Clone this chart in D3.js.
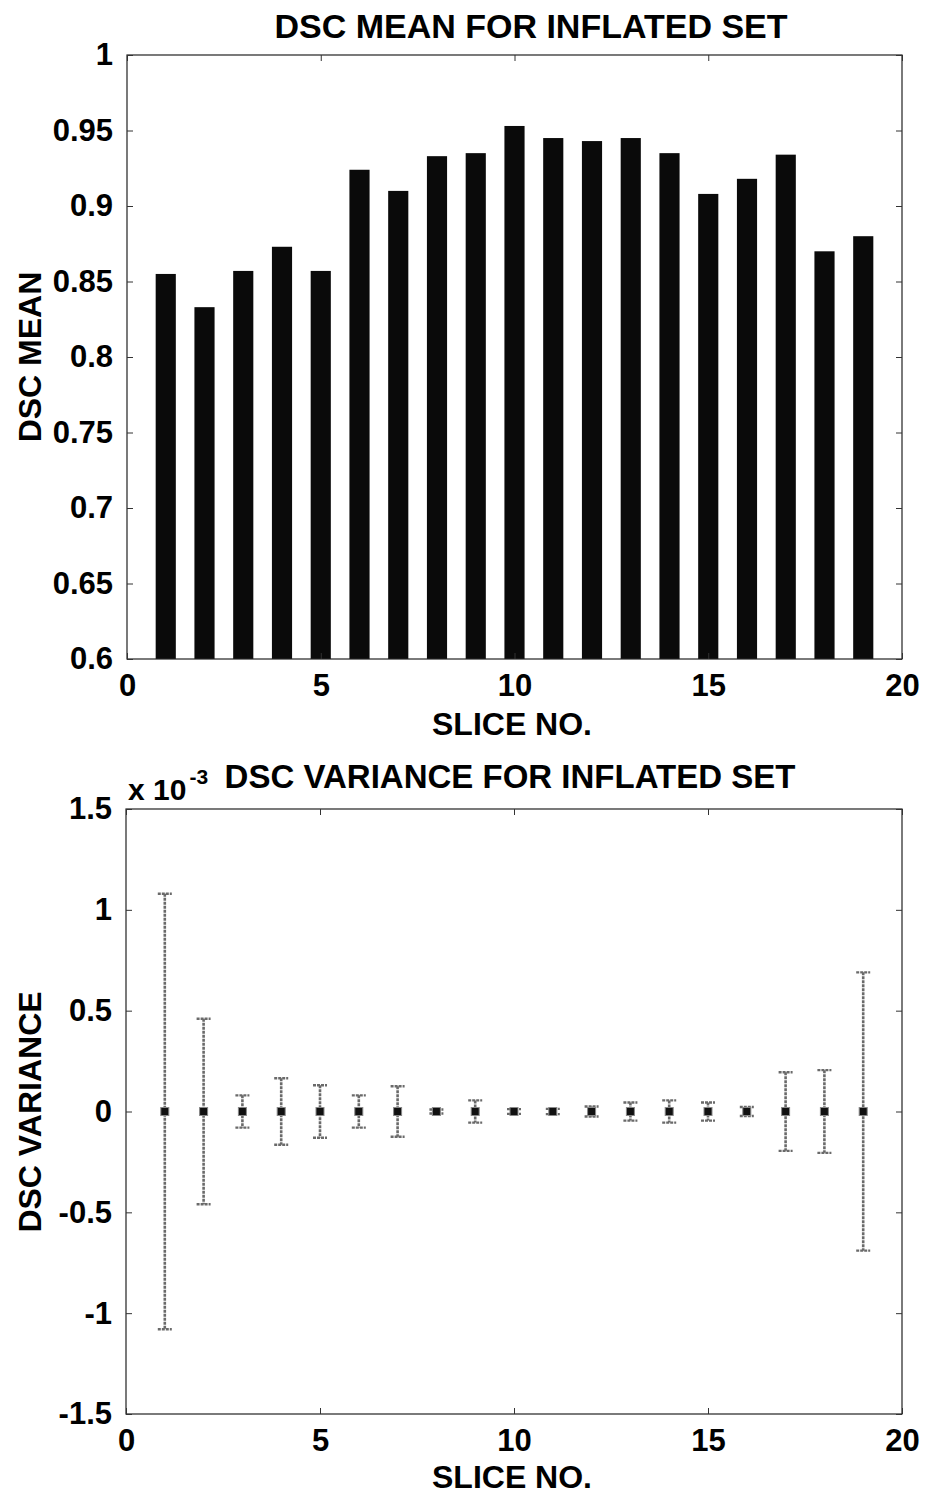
<!DOCTYPE html>
<html>
<head>
<meta charset="utf-8">
<title>DSC inflated set</title>
<script src="https://cdn.jsdelivr.net/npm/d3@7"></script>
<style>
  body, html { margin: 0; background: #fff; }
  text { font-family: "Liberation Sans", Arial, Helvetica, sans-serif; font-weight: bold; fill: #000; }
  .domain { display: none; }
  .frame { fill: none; stroke: #222; stroke-width: 1.2; }
  .bar { fill: #0a0a0a; }
  .err { stroke: #6a6a6a; stroke-width: 2.6; stroke-dasharray: 3,1; fill: none; }
  .cap { stroke: #6a6a6a; stroke-width: 2.4; stroke-dasharray: 3,1; }
  .mk { fill: #111; stroke: #888; stroke-width: 1; }
</style>
</head>
<body>
<div id="chart"></div>
<script>
// slice numbers
var slices = [1, 2, 3, 4, 5, 6, 7, 8, 9, 10, 11, 12, 13, 14, 15, 16, 17, 18, 19];
// mean DSC per slice
var dscMean = [0.855, 0.833, 0.857, 0.873, 0.857, 0.924, 0.910, 0.933, 0.935, 0.953,
               0.945, 0.943, 0.945, 0.935, 0.908, 0.918, 0.934, 0.870, 0.880];
// variance plot: centre values and half-widths of error bars (x 10^-3)
var varCentre = [0, 0, 0, 0, 0, 0, 0, 0, 0, 0, 0, 0, 0, 0, 0, 0, 0, 0, 0];
var varErr = [1.08, 0.46, 0.08, 0.165, 0.13, 0.08, 0.125, 0.01, 0.055, 0.012,
              0.013, 0.025, 0.045, 0.055, 0.045, 0.022, 0.195, 0.205, 0.69];
var xTicks = [0, 5, 10, 15, 20];
var meanTicks = [0.6, 0.65, 0.7, 0.75, 0.8, 0.85, 0.9, 0.95, 1];
var meanTickLabels = ["0.6", "0.65", "0.7", "0.75", "0.8", "0.85", "0.9", "0.95", "1"];
var varTicks = [-1.5, -1, -0.5, 0, 0.5, 1, 1.5];
var varTickLabels = ["-1.5", "-1", "-0.5", "0", "0.5", "1", "1.5"];

var w = 925, h = 1494;
var svg = d3.select("#chart").append("svg").attr("width", w).attr("height", h);

var left = 127, right = 902;
var tickLen = 6;

// draw the box, inside ticks on all four sides, and tick labels
function frame(g, x, y, yTicks, yLabels) {
  var x0 = x.range()[0], x1 = x.range()[1];
  var y0 = y.range()[0], y1 = y.range()[1];
  g.append("rect").attr("class", "frame")
    .attr("x", x0).attr("y", y1).attr("width", x1 - x0).attr("height", y0 - y1);

  g.append("g").attr("transform", "translate(0," + y0 + ")")
    .call(d3.axisBottom(x).tickValues(xTicks).tickSize(-tickLen).tickPadding(15).tickFormat(d3.format("d")))
    .call(function (a) { a.selectAll("text").attr("font-size", 31); });
  g.append("g").attr("transform", "translate(0," + y1 + ")")
    .call(d3.axisTop(x).tickValues(xTicks).tickSize(-tickLen).tickFormat(""));
  g.append("g").attr("transform", "translate(" + x0 + ",0)")
    .call(d3.axisLeft(y).tickValues(yTicks).tickSize(-tickLen).tickPadding(14)
      .tickFormat(function (d, i) { return yLabels[i]; }))
    .call(function (a) { a.selectAll("text").attr("font-size", 31); });
  g.append("g").attr("transform", "translate(" + x1 + ",0)")
    .call(d3.axisRight(y).tickValues(yTicks).tickSize(-tickLen).tickFormat(""));
  g.selectAll(".tick line").attr("stroke", "#333");
}

// ---------- top: DSC mean bars ----------
var x1s = d3.scaleLinear().domain([0, 20]).range([left, right]);
var y1s = d3.scaleLinear().domain([0.6, 1]).range([659, 55]);
var topG = svg.append("g");

topG.selectAll("rect.bar").data(slices).enter().append("rect")
  .attr("class", "bar")
  .attr("x", function (d) { return x1s(d - 0.26); })
  .attr("width", x1s(0.52) - x1s(0))
  .attr("y", function (d, i) { return y1s(dscMean[i]); })
  .attr("height", function (d, i) { return y1s(0.6) - y1s(dscMean[i]); });

frame(topG, x1s, y1s, meanTicks, meanTickLabels);

topG.append("text").attr("x", 531).attr("y", 38).attr("text-anchor", "middle")
  .attr("font-size", 34).text("DSC MEAN FOR INFLATED SET");
topG.append("text").attr("x", 512).attr("y", 735).attr("text-anchor", "middle")
  .attr("font-size", 32).text("SLICE NO.");
topG.append("text").attr("transform", "translate(41,357) rotate(-90)").attr("text-anchor", "middle")
  .attr("font-size", 32).text("DSC MEAN");

// ---------- bottom: DSC variance error bars ----------
var x2s = d3.scaleLinear().domain([0, 20]).range([left - 1, right]);
var y2s = d3.scaleLinear().domain([-1.5, 1.5]).range([1414, 809]);
var botG = svg.append("g");

frame(botG, x2s, y2s, varTicks, varTickLabels);

var capW = 7;
var eb = botG.selectAll("g.eb").data(slices).enter().append("g").attr("class", "eb");
eb.append("line").attr("class", "err")
  .attr("x1", function (d) { return x2s(d); }).attr("x2", function (d) { return x2s(d); })
  .attr("y1", function (d, i) { return y2s(varCentre[i] + varErr[i]); })
  .attr("y2", function (d, i) { return y2s(varCentre[i] - varErr[i]); });
eb.append("line").attr("class", "cap")
  .attr("x1", function (d) { return x2s(d) - capW; }).attr("x2", function (d) { return x2s(d) + capW; })
  .attr("y1", function (d, i) { return y2s(varCentre[i] + varErr[i]); })
  .attr("y2", function (d, i) { return y2s(varCentre[i] + varErr[i]); });
eb.append("line").attr("class", "cap")
  .attr("x1", function (d) { return x2s(d) - capW; }).attr("x2", function (d) { return x2s(d) + capW; })
  .attr("y1", function (d, i) { return y2s(varCentre[i] - varErr[i]); })
  .attr("y2", function (d, i) { return y2s(varCentre[i] - varErr[i]); });
eb.append("rect").attr("class", "mk")
  .attr("x", function (d) { return x2s(d) - 4; })
  .attr("y", function (d, i) { return y2s(varCentre[i]) - 4; })
  .attr("width", 8).attr("height", 8);

botG.append("text").attr("x", 510).attr("y", 788).attr("text-anchor", "middle")
  .attr("font-size", 33).text("DSC VARIANCE FOR INFLATED SET");
var sc = botG.append("text").attr("x", 128).attr("y", 800).attr("font-size", 30).attr("font-weight", "normal");
sc.append("tspan").text("x 10");
sc.append("tspan").attr("dy", -16).attr("dx", 3).attr("font-size", 21).text("-3");
botG.append("text").attr("x", 512).attr("y", 1488).attr("text-anchor", "middle")
  .attr("font-size", 32).text("SLICE NO.");
botG.append("text").attr("transform", "translate(41,1112) rotate(-90)").attr("text-anchor", "middle")
  .attr("font-size", 32).text("DSC VARIANCE");
</script>
</body>
</html>
